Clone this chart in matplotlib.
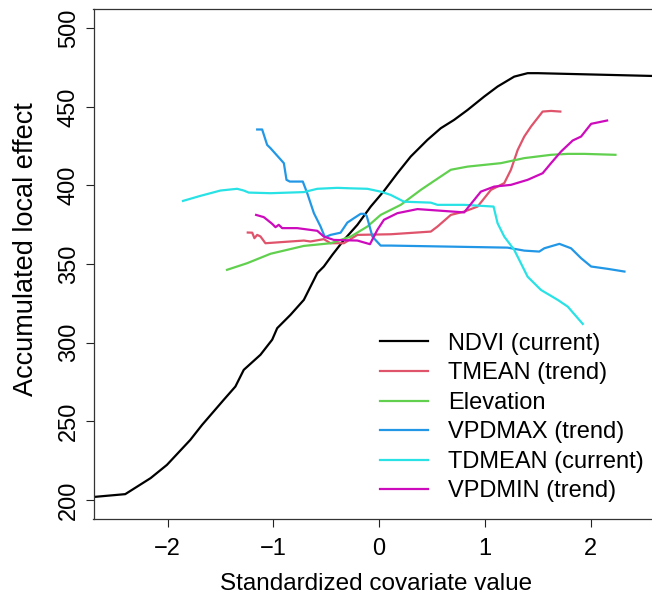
import matplotlib
matplotlib.use("Agg")
import matplotlib.pyplot as plt

plt.rcParams['font.family'] = ['Liberation Sans', 'DejaVu Sans']

# NDVI (current)
ndvi_x = [-2.70, -2.40, -2.16, -2.006, -1.785, -1.674, -1.47, -1.359, -1.28, -1.122, -1.011,
          -0.964, -0.838, -0.712, -0.585, -0.523, -0.443, -0.333, -0.206, -0.080, 0.045,
          0.172, 0.298, 0.456, 0.582, 0.708, 0.835, 0.992, 1.119, 1.276, 1.403, 1.498, 2.60]
ndvi_y = [202, 203.8, 214, 222.4, 238.3, 247.8, 263.7, 272.2, 282.8, 292.4, 302,
          309.3, 317.8, 327.3, 344.3, 348.5, 355.9, 365.4, 375, 386.6, 396.5,
          407.8, 418.4, 429, 436.4, 441.7, 448, 456.5, 462.9, 469.2, 471.4, 471.4, 469.6]

# TMEAN (trend)
tmean_x = [-1.242, -1.2, -1.179, -1.153, -1.122, -1.075, -0.712, -0.649, -0.523, -0.46,
           -0.333, -0.206, 0.109, 0.488, 0.551, 0.677, 0.803, 0.930, 1.056, 1.182,
           1.245, 1.309, 1.371, 1.435, 1.545, 1.624, 1.712]
tmean_y = [370.1, 370, 366.5, 368.6, 367.6, 363.3, 365, 364.4, 365.9, 363.3,
           363.3, 368.6, 369, 370.7, 373.9, 381.3, 383.4, 386.6, 397.2, 401.5,
           410, 422.6, 431.1, 437.5, 447, 447.4, 447]

# Elevation
elev_x = [-1.438, -1.248, -1.027, -0.712, -0.459, -0.27, -0.112, 0.014, 0.109, 0.204,
          0.393, 0.488, 0.677, 0.835, 1.15, 1.371, 1.624, 1.782, 1.94, 2.233]
elev_y = [346.4, 350.6, 356.6, 361.6, 363.3, 367.5, 373.9, 381.3, 384.5, 387.7,
          397.2, 401.5, 410, 412, 414.2, 417.4, 419.5, 420.1, 420.1, 419.5]

# VPDMAX (trend)
vpdmax_x = [-1.153, -1.106, -1.059, -1.027, -0.901, -0.876, -0.845, -0.722, -0.68, -0.617,
            -0.554, -0.513, -0.459, -0.365, -0.301, -0.239, -0.175, -0.144, -0.118, -0.064,
            0.014, 0.109, 1.214, 1.371, 1.513, 1.561, 1.703, 1.813, 1.908, 2.003, 2.161, 2.318]
vpdmax_y = [435.6, 435.6, 425.8, 423.7, 414.2, 403.6, 402.5, 402.5, 395.1, 382.4,
            373.9, 367.1, 368.6, 370, 376.4, 379.2, 382, 382, 380.7, 367.5,
            361.8, 361.8, 360.5, 358.6, 358, 360.1, 362.9, 360.1, 353.8, 348.5, 347, 345.3]

# TDMEAN (current)
tdmean_x = [-1.854, -1.69, -1.5, -1.343, -1.28, -1.233, -1.027, -0.712, -0.585, -0.396,
            -0.27, -0.112, 0.014, 0.109, 0.235, 0.488, 0.551, 0.803, 1.081, 1.119,
            1.182, 1.276, 1.403, 1.529, 1.687, 1.782, 1.924]
tdmean_y = [390.2, 393.4, 396.8, 397.9, 396.8, 395.5, 395.1, 395.8, 397.9, 398.5,
            398.2, 397.9, 396.1, 394, 389.7, 389.1, 387.7, 387.7, 386.6, 376,
            367.5, 359.1, 342, 333.6, 327.3, 323, 312]

# VPDMIN (trend)
vpdmin_x = [-1.163, -1.091, -1.059, -1.011, -0.98, -0.949, -0.917, -0.775, -0.585, -0.523,
            -0.428, -0.206, -0.087, -0.017, 0.045, 0.172, 0.362, 0.803, 0.961, 1.087,
            1.245, 1.403, 1.545, 1.624, 1.719, 1.829, 1.908, 2.003, 2.154]
vpdmin_y = [381.3, 379.9, 378.2, 375.6, 373.5, 375, 372.9, 372.9, 371.2, 367.5,
            365.4, 365, 362.7, 371.8, 378.2, 382.4, 385, 382.9, 396.1, 399.3,
            400.4, 403.6, 407.8, 414.2, 421.6, 428.6, 431.1, 439.2, 441.3]

labels = ["NDVI (current)", "TMEAN (trend)", "Elevation", "VPDMAX (trend)",
          "TDMEAN (current)", "VPDMIN (trend)"]
colors = ["#000000", "#DF536B", "#61D04F", "#2297E6", "#28E2E5", "#CD0BBC"]
series = [(ndvi_x, ndvi_y), (tmean_x, tmean_y), (elev_x, elev_y),
          (vpdmax_x, vpdmax_y), (tdmean_x, tdmean_y), (vpdmin_x, vpdmin_y)]

xticks = [-2, -1, 0, 1, 2]
yticks = [200, 250, 300, 350, 400, 450, 500]

fig = plt.figure(figsize=(6.52, 6.01), dpi=100)
ax = fig.add_axes([93.5 / 652, 1 - 519 / 601, 1 - 93.5 / 652 + 0.01, (519 - 9.3) / 601])

for (xs, ys), c, lab in zip(series, colors, labels):
    ax.plot(xs, ys, color=c, lw=1.6, label=lab, solid_joinstyle='round')

ax.set_xlim(-2.70, 2.64)
ax.set_ylim(188, 512)
ax.set_xticks(xticks)
ax.set_yticks(yticks)
ax.set_xticklabels([f"{t}".replace("-", "\u2212") for t in xticks])
ax.set_yticklabels([str(t) for t in yticks], rotation=90, va='center')
ax.tick_params(direction='out', length=6, width=0.8, labelsize=17, pad=4, colors='#222222', labelcolor='black')
ax.tick_params(axis='x', pad=8)
for s in ax.spines.values():
    s.set_color('#333333')
    s.set_linewidth(0.9)
ax.spines['right'].set_visible(False)

ax.set_xlabel("Standardized covariate value", fontsize=17.5, labelpad=9)
ax.set_ylabel("Accumulated local effect", fontsize=19.5)
ax.yaxis.set_label_coords(-0.097, 0.53)

leg = ax.legend(loc='upper left', bbox_to_anchor=(0.491, 0.384), frameon=False,
                fontsize=17, handlelength=2.0, handletextpad=0.85, labelspacing=0.32,
                borderaxespad=0)

fig.savefig("out.png", dpi=100)
